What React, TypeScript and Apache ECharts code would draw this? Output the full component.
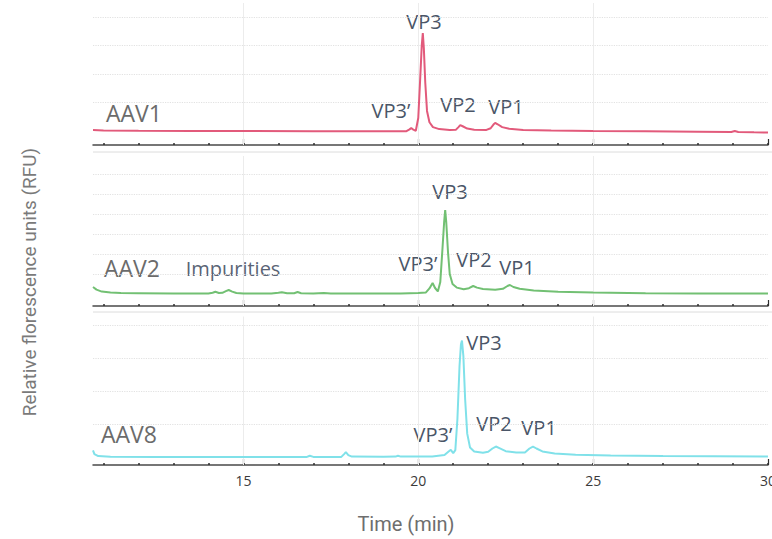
import { useEffect, useRef } from 'react';
import * as echarts from 'echarts';

// Capillary electrophoresis traces of AAV capsid proteins (time in min, RFU)
const sampleNames = ['AAV1', 'AAV2', 'AAV8'];
const peakNames = ['VP3', 'VP3’', 'VP2', 'VP1'];
const impurityLabel = 'Impurities';

const timeMin = 10.7;
const timeMax = 30;
const minorTickTimes = [11, 12, 13, 14, 15, 16, 17, 18, 19, 20, 21, 22, 23, 24, 25, 26, 27, 28, 29, 30];
const majorTickTimes = [15, 20, 25, 30];

const aav1Trace: [number, number][] = [
  [10.7, 5.3], [11.0, 5.1], [12.0, 5.0], [13.5, 4.95], [15.0, 4.9], [17.0, 4.85], [19.0, 4.8],
  [19.65, 4.8], [19.75, 5.5], [19.8, 6.0], [19.86, 5.4], [19.93, 5.0], [20.0, 9.5], [20.05, 22],
  [20.1, 35], [20.13, 39.4], [20.16, 34], [20.2, 22], [20.25, 12], [20.32, 8.0], [20.42, 6.3],
  [20.6, 5.6], [20.9, 5.3], [21.08, 5.4], [21.15, 6.3], [21.2, 7.0], [21.27, 6.6], [21.4, 5.8],
  [21.6, 5.4], [21.95, 5.3], [22.07, 5.9], [22.15, 7.2], [22.2, 7.8], [22.27, 7.3], [22.4, 6.3],
  [22.6, 5.7], [23.0, 5.3], [23.8, 5.1], [25.0, 4.9], [26.5, 4.8], [28.0, 4.7], [28.95, 4.6],
  [29.05, 4.9], [29.15, 4.55], [29.6, 4.45], [30.0, 4.4],
];

const aav2Trace: [number, number][] = [
  [10.7, 9.5], [10.8, 8.2], [10.95, 7.2], [11.2, 6.7], [11.5, 6.5], [12.0, 6.4], [13.0, 6.2],
  [14.0, 6.2], [14.12, 6.6], [14.2, 7.1], [14.3, 6.5], [14.4, 6.6], [14.5, 7.4], [14.58, 8.0],
  [14.68, 7.2], [14.8, 6.5], [15.0, 6.2], [15.8, 6.2], [16.0, 6.6], [16.1, 6.9], [16.25, 6.4],
  [16.45, 6.4], [16.55, 7.0], [16.65, 6.4], [17.0, 6.2], [17.3, 6.5], [17.5, 6.2], [18.5, 6.2],
  [19.5, 6.3], [20.0, 6.5], [20.22, 6.8], [20.32, 8.8], [20.41, 11.5], [20.48, 9.0], [20.56, 7.3],
  [20.63, 12], [20.69, 28], [20.74, 42], [20.77, 48], [20.8, 42], [20.85, 27], [20.9, 16],
  [20.98, 11.0], [21.1, 9.2], [21.3, 8.4], [21.45, 8.9], [21.57, 10.0], [21.68, 9.2], [21.85, 8.5],
  [22.2, 8.1], [22.42, 8.6], [22.55, 10.0], [22.62, 10.5], [22.72, 9.5], [22.9, 8.6], [23.3, 7.8],
  [24.0, 7.1], [25.0, 6.7], [26.5, 6.4], [28.0, 6.25], [30.0, 6.2],
];

const aav8Trace: [number, number][] = [
  [10.7, 4.4], [10.74, 3.3], [10.85, 2.7], [11.2, 2.5], [12.5, 2.45], [14.5, 2.4], [16.8, 2.4],
  [16.9, 2.8], [17.0, 2.45], [17.8, 2.45], [17.88, 3.3], [17.93, 3.9], [18.0, 3.0], [18.1, 2.55],
  [19.0, 2.5], [19.35, 2.55], [19.42, 2.8], [19.5, 2.55], [20.4, 2.6], [20.75, 3.0], [20.86, 4.0],
  [20.93, 4.6], [21.0, 3.6], [21.06, 4.5], [21.12, 14], [21.18, 30], [21.22, 36.5], [21.25, 37.7],
  [21.29, 33], [21.34, 20], [21.4, 9.5], [21.48, 5.3], [21.6, 4.1], [21.85, 3.7], [22.0, 4.0],
  [22.12, 5.0], [22.22, 5.6], [22.32, 5.1], [22.5, 4.2], [22.8, 3.8], [23.05, 3.8], [23.18, 5.0],
  [23.28, 5.6], [23.38, 5.0], [23.55, 4.1], [23.9, 3.5], [24.5, 3.1], [25.5, 2.85], [27.0, 2.7],
  [30.0, 2.6],
];

const traces = [aav1Trace, aav2Trace, aav8Trace];

// Layout of the three stacked panels (pixels) and their value ranges
const lineColors = ['#e25a7b', '#72c073', '#80e1e9'];
const panelLayout = [
  { top: 3, height: 142, yMax: 50, rules: [15, 25, 35, 45] },
  { top: 156, height: 150, yMax: 75, rules: [16, 26, 36, 46, 56, 66] },
  { top: 316.5, height: 148.5, yMax: 45, rules: [12.5, 22.5, 32.5, 42.5] },
];
const gridLeft = 93;
const gridRight = 4;

// Text placement for panel annotations
const sampleLabelPos = [
  [134, 113],
  [132, 268],
  [129, 434],
];
const peakLabelPos = [
  [[424, 21], [391, 110], [458, 104], [506, 106]],
  [[450, 191], [418, 263], [474, 259], [517, 267]],
  [[484, 342], [433, 434], [494, 423], [539, 427]],
];
const impurityPos = [233, 268];

const labelFont = '"Open Sans", "Noto Sans", sans-serif';
const titleFont = 'Roboto, "Open Sans", sans-serif';

function buildOption(): echarts.EChartsOption {
  const grid = panelLayout.map((p) => ({
    left: gridLeft,
    right: gridRight,
    top: p.top,
    height: p.height,
    outerBoundsMode: 'none',
  }));

  const xAxis: any[] = [];
  panelLayout.forEach((_, i) => {
    // minor ticks every minute, carrying the axis line
    xAxis.push({
      type: 'value',
      gridIndex: i,
      position: 'bottom',
      min: timeMin,
      max: timeMax,
      axisLine: { show: true, onZero: false, lineStyle: { color: '#4a4a4a', width: 1.5 } },
      axisTick: {
        show: true,
        inside: true,
        length: 2,
        customValues: minorTickTimes,
        lineStyle: { color: '#2e2e2e', width: 1.5 },
      },
      axisLabel: { show: false },
      splitLine: { show: false },
    });
    // major ticks every five minutes, labelled on the bottom panel
    xAxis.push({
      type: 'value',
      gridIndex: i,
      position: 'bottom',
      offset: 0,
      min: timeMin,
      max: timeMax,
      axisLine: { show: false, onZero: false },
      axisTick: {
        show: true,
        inside: true,
        length: 6,
        customValues: majorTickTimes,
        lineStyle: { color: '#2e2e2e', width: 1.2 },
      },
      axisLabel: {
        show: i === panelLayout.length - 1,
        customValues: majorTickTimes,
        alignMaxLabel: 'center',
        margin: 8,
        color: '#3a3a3a',
        fontSize: 14,
        fontFamily: labelFont,
      },
      splitLine: { show: false },
    });
  });

  const yAxis = panelLayout.map((p, i) => ({
    type: 'value' as const,
    gridIndex: i,
    min: 0,
    max: p.yMax,
    show: false,
    splitLine: { show: false },
  }));

  const series = traces.map((trace, i) => ({
    type: 'line' as const,
    name: sampleNames[i],
    xAxisIndex: i * 2,
    yAxisIndex: i,
    data: trace,
    showSymbol: false,
    symbol: 'none',
    smooth: false,
    z: 3,
    lineStyle: { color: lineColors[i], width: 2 },
    markLine: {
      silent: true,
      symbol: 'none',
      z: 1,
      label: { show: false },
      emphasis: { disabled: true },
      data: [
        ...panelLayout[i].rules.map((v) => ({
          yAxis: v,
          lineStyle: { color: '#e2e2e2', type: 'dotted' as const, width: 1.2 },
        })),
        ...majorTickTimes.slice(0, 3).map((t) => ({
          xAxis: t,
          lineStyle: { color: '#ececec', type: 'solid' as const, width: 1 },
        })),
      ],
    },
  }));

  const graphic: any[] = [];
  // faint separators between panels
  [152, 312].forEach((y) => {
    graphic.push({
      type: 'line',
      shape: { x1: gridLeft, y1: y, x2: 772, y2: y },
      style: { stroke: '#dcdcdc', lineWidth: 1 },
      silent: true,
    });
  });
  sampleNames.forEach((name, i) => {
    graphic.push({
      type: 'text',
      x: sampleLabelPos[i][0],
      y: sampleLabelPos[i][1],
      style: {
        text: name,
        fill: '#6b6b6b',
        fontSize: 23,
        fontFamily: labelFont,
        textAlign: 'center',
        textVerticalAlign: 'middle',
      },
    });
    peakNames.forEach((peak, k) => {
      graphic.push({
        type: 'text',
        x: peakLabelPos[i][k][0],
        y: peakLabelPos[i][k][1],
        style: {
          text: peak,
          fill: '#4a5567',
          fontSize: 20,
          fontFamily: labelFont,
          textAlign: 'center',
          textVerticalAlign: 'middle',
        },
      });
    });
  });
  graphic.push({
    type: 'text',
    x: impurityPos[0],
    y: impurityPos[1],
    style: {
      text: impurityLabel,
      fill: '#5a6475',
      fontSize: 20,
      fontFamily: labelFont,
      textAlign: 'center',
      textVerticalAlign: 'middle',
    },
  });
  graphic.push({
    type: 'text',
    x: 29,
    y: 282,
    rotation: Math.PI / 2,
    style: {
      text: 'Relative florescence units (RFU)',
      fill: '#7a7a7a',
      fontSize: 19,
      fontFamily: titleFont,
      textAlign: 'center',
      textVerticalAlign: 'middle',
    },
  });
  graphic.push({
    type: 'text',
    x: 406,
    y: 524,
    style: {
      text: 'Time (min)',
      fill: '#6e6e6e',
      fontSize: 20,
      fontFamily: titleFont,
      textAlign: 'center',
      textVerticalAlign: 'middle',
    },
  });

  return {
    animation: false,
    backgroundColor: '#ffffff',
    grid,
    xAxis,
    yAxis,
    series,
    graphic,
  };
}

export default function App() {
  const ref = useRef<HTMLDivElement>(null);

  useEffect(() => {
    if (!ref.current) return;
    const chart = echarts.init(ref.current, undefined, { renderer: 'svg' });
    chart.setOption(buildOption());
    return () => chart.dispose();
  }, []);

  return (
    <div
      ref={ref}
      style={{ position: 'fixed', left: 0, top: 0, width: 772, height: 539, background: '#fff' }}
    />
  );
}
